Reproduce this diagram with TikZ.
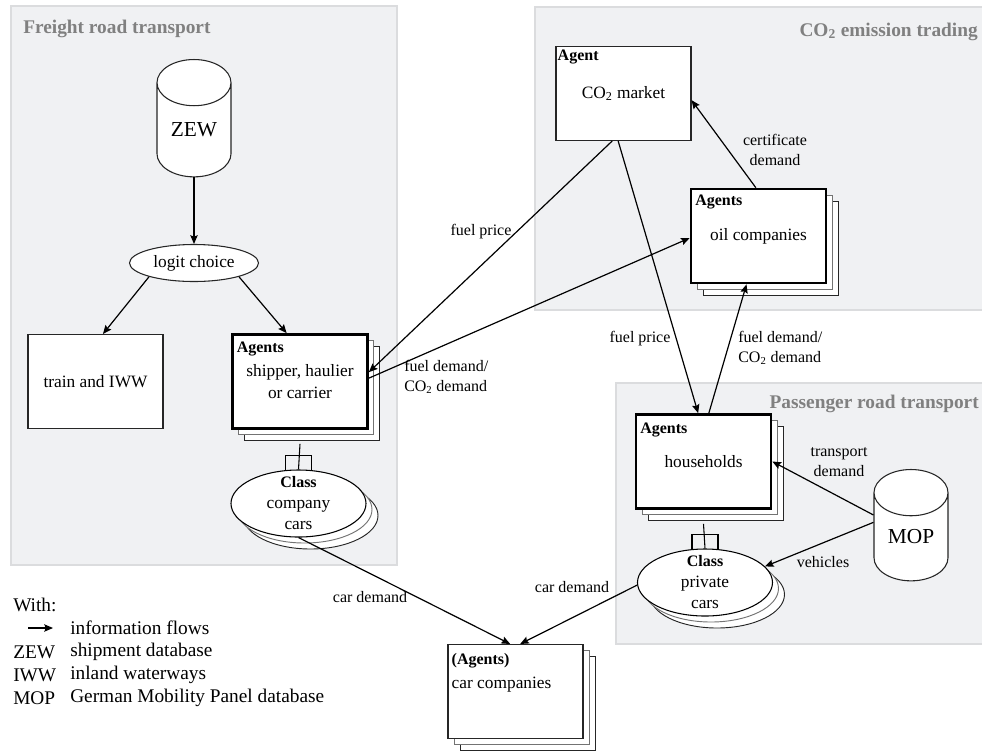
\documentclass[tikz,border=0pt]{standalone}
\usepackage{fontspec}
\setmainfont{Liberation Serif}
\usepackage{tikz}
\usetikzlibrary{calc}
\usetikzlibrary{arrows.meta}
\usetikzlibrary{shapes.geometric}
\usetikzlibrary{shadows}
\definecolor{regfill}{HTML}{F0F1F3}
\definecolor{regline}{HTML}{DBDCDE}
\definecolor{regtext}{HTML}{808080}
\newcommand{\fsz}[2]{\fontsize{#1}{#2}\selectfont}
\tikzset{
  region/.style={fill=regfill, draw=regline, line width=1.5pt},
  rtitle/.style={text=regtext, font=\fsz{14.5}{17}\bfseries, inner sep=0pt},
  box/.style={rectangle, draw=black!85, fill=white, line width=.8pt, minimum width=101.25pt, minimum height=70.5pt, inner sep=0pt, align=center, font=\fsz{13}{16}},
  stack/.style={copy shadow={shadow xshift=9pt, shadow yshift=-9pt, draw=black!85, fill=white, line width=.7pt},
    copy shadow={shadow xshift=4.5pt, shadow yshift=-4.5pt, draw=black!55, fill=white, line width=.7pt}},
  agentbox/.style={box, stack, line width=2pt, draw=black},
  tag/.style={anchor=north west, inner sep=0pt, font=\fsz{12}{14}\bfseries},
  classell/.style={ellipse, draw=black, fill=white, line width=.8pt, minimum width=101.25pt, minimum height=50.25pt, inner sep=0pt, stack},
  dbase/.style={cylinder, shape border rotate=90, draw=black!85, fill=white, line width=.8pt, minimum width=55.5pt, inner sep=0pt, font=\fsz{16}{19}},
  lbl/.style={align=center, inner sep=0pt, font=\fsz{12}{15}},
  legtxt/.style={anchor=west, inner sep=0pt, font=\fsz{14.5}{17}},
  flow/.style={black, line width=.9pt, ->, >={Stealth[length=6.5pt, width=5.5pt, inset=1pt]}},
  link/.style={black, line width=.8pt},
}

\begin{document}
\begin{tikzpicture}[x=0.75pt, y=-0.75pt]
\useasboundingbox (0,0) rectangle (982,751);

% regions
\draw[region] (11,6) rectangle (397,565);
\draw[region] (535,7) rectangle (1000,310);
\draw[region] (616,383) rectangle (1000,644);
\node[rtitle, anchor=base west] (tfreight) at (23,33) {Freight road transport};
\node[rtitle, anchor=base east] (tco2) at (978,36) {CO\textsubscript{2} emission trading};
\node[rtitle, anchor=base east] (tpass) at (979,408) {Passenger road transport};

% freight road transport
\node[dbase, minimum height=88pt] (zew) at (194,130) {ZEW};
\node[ellipse, draw=black!85, fill=white, line width=.8pt, minimum width=96.75pt, minimum height=27.75pt, inner sep=0pt, font=\fsz{13}{16}] (logit) at (194,263) {logit choice};
\node[box] (train) at (95.5,381.5) {train and IWW};
\node[agentbox] (shipper) at (300,381.5) {shipper, haulier\\or carrier};
\node[tag] (shippertag) at ([shift={(4pt,-6.5pt)}]shipper.north west) {Agents};
\node[classell] (ccars) at (298.5,503.5) {};
\node[lbl, font=\fsz{13}{15.75}] (ccarstxt) at (ccars) {\textbf{\fsz{12}{15.75}Class}\\company\\cars};

\draw[flow] (zew.south) -- (logit.north);
\draw[flow] (logit.197) -- ([xshift=5.6pt]train.north);
\draw[flow] (logit.-17) -- ([xshift=-10pt]shipper.north);
\draw[link] ([yshift=-10.5pt]shipper.south) -- (ccars.north);
\draw[link] ([shift={(-9.75pt,-.75pt)}]ccars.north) -- ++(0pt,11.25pt) -- ++(19.5pt,0pt) -- ++(0pt,-11.25pt);

% CO2 emission trading
\node[box] (market) at (623.5,93.5) {CO\textsubscript{2} market};
\node[tag] (markettag) at ([shift={(1.5pt,-3pt)}]market.north west) {Agent};
\node[agentbox] (oil) at (758.5,236) {oil companies};
\node[tag] (oiltag) at ([shift={(4pt,-5pt)}]oil.north west) {Agents};

% passenger road transport
\node[agentbox] (households) at (703.5,461.5) {households};
\node[tag] (hhtag) at ([shift={(4pt,-7pt)}]households.north west) {Agents};
\node[classell] (pcars) at (705,582.5) {};
\node[lbl, font=\fsz{13}{15.75}] (pcarstxt) at (pcars) {\textbf{\fsz{12}{15.75}Class}\\private\\cars};
\node[dbase, minimum height=83.5pt] (mop) at (911,537) {MOP};
\draw[link] ([yshift=-10.5pt]households.south) -- (pcars.north);
\draw[link] ([shift={(-9.75pt,-.75pt)}]pcars.north) -- ++(0pt,11.25pt) -- ++(19.5pt,0pt) -- ++(0pt,-11.25pt);

% car companies
\node[box, stack] (carco) at (515.5,691.5) {};
\node[tag] (carcotag) at ([shift={(3pt,-6.5pt)}]carco.north west) {(Agents)};
\node[anchor=west, inner sep=0pt, font=\fsz{13}{16}] (carcotxt) at ([shift={(3pt,-30.75pt)}]carco.north west) {car companies};

% information flows
\draw[flow] ([xshift=-8.5pt]market.south) -- ([yshift=7pt]shipper.east);
\draw[flow] ([yshift=2.5pt]shipper.east) -- ([yshift=-1.5pt]oil.west);
\draw[flow] ([xshift=-2pt]oil.north) -- ([yshift=-5pt]market.east);
\draw[flow] ([xshift=-4pt]market.south) -- ([xshift=-4pt]households.north);
\draw[flow] ([xshift=4pt]households.north) -- ([xshift=-9pt]oil.south);
\draw[flow] ([yshift=16.5pt]mop.west) -- (households.east);
\draw[flow] ([yshift=11pt]mop.west) -- (pcars.15);
\draw[flow] (ccars.south) -- ([xshift=-4pt]carco.north);
\draw[flow] ([yshift=-2pt]pcars.west) -- ([xshift=3.5pt]carco.north);

\node[lbl] (lfp1) at (481,232) {fuel price};
\node[lbl, align=left, anchor=west] (lfd1) at (404,377) {fuel demand/\\CO\textsubscript{2} demand};
\node[lbl] (lcert) at (775,150) {certificate\\demand};
\node[lbl] (lfp2) at (640,339) {fuel price};
\node[lbl, align=left, anchor=west] (lfd2) at (738,348) {fuel demand/\\CO\textsubscript{2} demand};
\node[lbl] (ltrans) at (839,462) {transport\\demand};
\node[lbl] (lveh) at (823,562) {vehicles};
\node[lbl] (lcd1) at (370,597) {car demand};
\node[lbl] (lcd2) at (572,587) {car demand};

% legend
\node[legtxt] (lwith) at (13,605) {With:};
\coordinate (la) at (28,628);
\coordinate (lb) at (53,628);
\draw[flow] (la) -- (lb);
\node[legtxt] (linfo) at (70,628) {information flows};
\foreach \ab/\tx/\yy in {ZEW/shipment database/652, IWW/inland waterways/675, MOP/German Mobility Panel database/698} {
  \node[legtxt] (l\ab) at (13,\yy) {\ab};
  \node[legtxt] (ld\ab) at (70,\yy) {\tx};
}
\end{tikzpicture}
\end{document}
